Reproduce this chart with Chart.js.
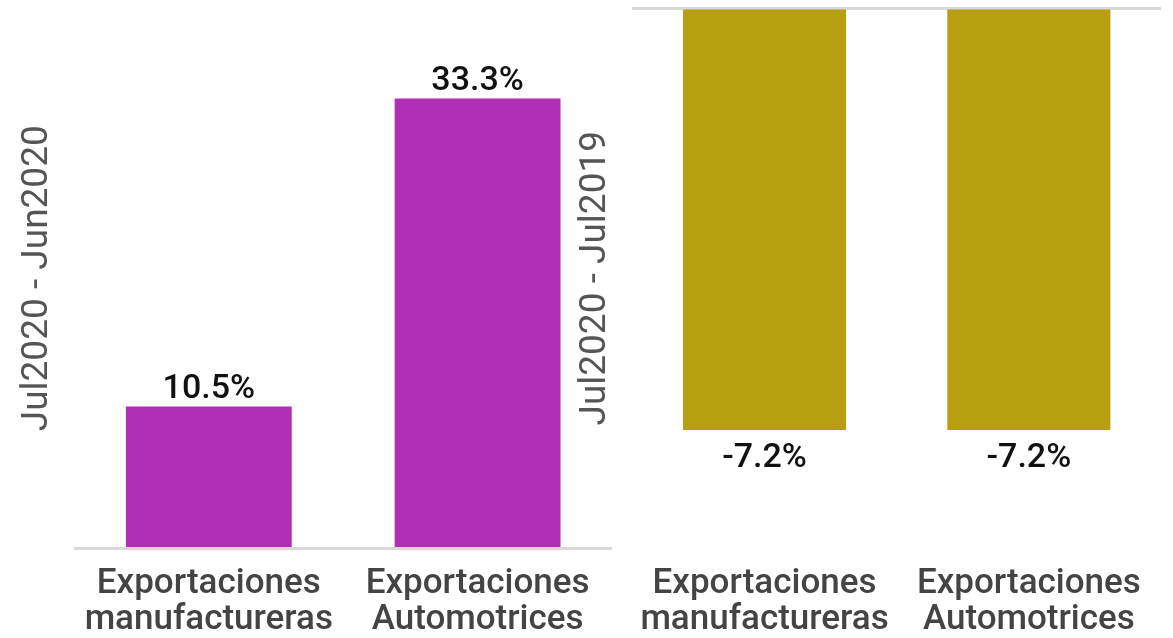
<!DOCTYPE html>
<html>
<head>
<meta charset="utf-8">
<script src="https://cdn.jsdelivr.net/npm/chart.js@4"></script>
<style>
  html, body { margin: 0; padding: 0; background: #fff; }
  #wrap { position: relative; width: 1173px; height: 638px; overflow: hidden; }
  canvas { position: absolute; top: 0; }
  #mensual { left: 0; }
  #anual { left: 558px; }
</style>
</head>
<body>
<div id="wrap">
  <canvas id="mensual" width="616" height="658"></canvas>
  <canvas id="anual" width="615" height="658"></canvas>
</div>
<script>
// categorías (eje x, dos líneas)
const categorias = [
  ["Exportaciones", "manufactureras"],
  ["Exportaciones", "Automotrices"],
];

// variación mensual y anual (%)
const varMensual = [10.5, 33.3];
const varAnual = [-7.2, -7.2];

const tituloMensual = "Jul2020 - Jun2020";
const tituloAnual = "Jul2020 - Jul2019";

const MORADO = "#AF2FB7";
const DORADO = "#B89F12";

// etiquetas de valor encima / debajo de cada barra
const etiquetasPlugin = {
  id: "etiquetas",
  afterDatasetsDraw(chart) {
    const ctx = chart.ctx;
    ctx.save();
    ctx.font = "500 34px Roboto";
    ctx.fillStyle = "#111111";
    ctx.textAlign = "center";
    ctx.textBaseline = "alphabetic";
    chart.data.datasets.forEach((ds, i) => {
      chart.getDatasetMeta(i).data.forEach((bar, j) => {
        const v = ds.data[j];
        const txt = v.toFixed(1) + "%";
        if (v >= 0) {
          ctx.fillText(txt, bar.x, bar.y - 9);
        } else {
          ctx.fillText(txt, bar.x, bar.y + 37);
        }
      });
    });
    ctx.restore();
  },
};

const crearGrafico = (id, valores, color, titulo, min, max, padDer) => {
  return new Chart(document.getElementById(id), {
    type: "bar",
    data: {
      labels: categorias,
      datasets: [
        {
          data: valores,
          backgroundColor: color,
          borderWidth: 0,
          categoryPercentage: 1,
          barPercentage: 0.617,
        },
      ],
    },
    options: {
      responsive: false,
      animation: false,
      layout: { padding: { left: 16, right: padDer, top: 8, bottom: 2 } },
      plugins: {
        legend: { display: false },
        tooltip: { enabled: false },
      },
      scales: {
        x: {
          grid: { display: false, drawTicks: false },
          border: { display: false },
          ticks: {
            color: "#444444",
            padding: 17,
            maxRotation: 0,
            autoSkip: false,
            font: { family: "Roboto", size: 35, weight: "500", lineHeight: 1.05 },
          },
        },
        y: {
          min: min,
          max: max,
          border: { display: false },
          grid: {
            drawTicks: false,
            lineWidth: 3,
            color: (c) => (c.tick && c.tick.value === 0 ? "#D9D9D9" : "rgba(0,0,0,0)"),
          },
          ticks: { display: false },
          title: {
            display: true,
            text: titulo,
            color: "#555555",
            padding: { top: 0, bottom: 14 },
            font: { family: "Roboto", size: 37, weight: "400", lineHeight: 1.2 },
          },
        },
      },
    },
    plugins: [etiquetasPlugin],
  });
};

crearGrafico("mensual", varMensual, MORADO, tituloMensual, 0, 40, 4);
crearGrafico("anual", varAnual, DORADO, tituloAnual, -9.22, 0, 12);
</script>
</body>
</html>
